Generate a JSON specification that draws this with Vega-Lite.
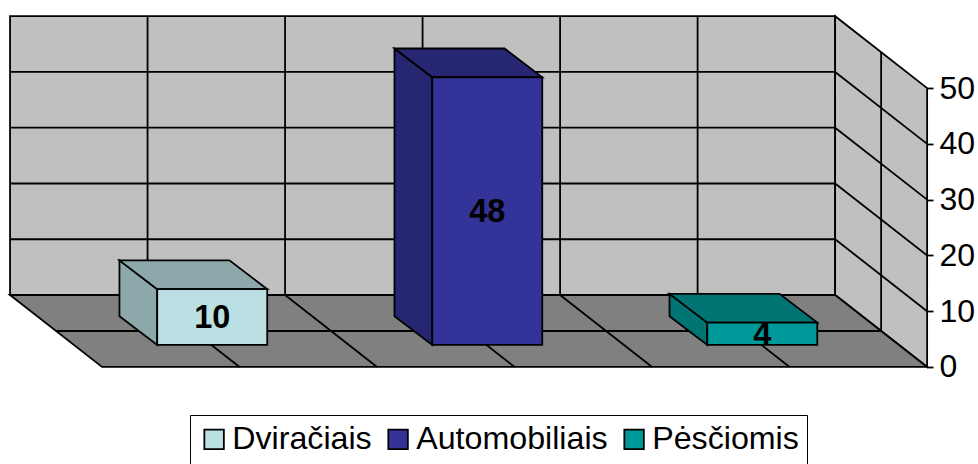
{
"$schema":"https://vega.github.io/schema/vega-lite/v6.json",
"width":978,"height":464,"padding":0,"autosize":{"type":"none"},
"background":"white",
"view":{"stroke":null},
"config":{"font":"Liberation Sans"},
"datasets":{
"bars":[{"category":"Dvira\u010diais","value":10,"slot":0},{"category":"Automobiliais","value":48,"slot":1},{"category":"P\u0117s\u010diomis","value":4,"slot":2}],
"back":[{"u":0,"d":1,"v":0,"v2":50},{"u":3,"d":1,"v":0,"v2":50}],
"side":[{"u":3,"d":1,"v":0,"v2":50},{"u":3,"d":0,"v":0,"v2":50}],
"floor":[{"d":1,"u":0,"u2":3},{"d":0,"u":0,"u2":3}],
"segments":[
{"u":0,"d":1,"v":10,"u2":3,"d2":1,"v2":10},{"u":0,"d":1,"v":20,"u2":3,"d2":1,"v2":20},{"u":0,"d":1,"v":30,"u2":3,"d2":1,"v2":30},{"u":0,"d":1,"v":40,"u2":3,"d2":1,"v2":40},
{"u":3,"d":1,"v":10,"u2":3,"d2":0,"v2":10},{"u":3,"d":1,"v":20,"u2":3,"d2":0,"v2":20},{"u":3,"d":1,"v":30,"u2":3,"d2":0,"v2":30},{"u":3,"d":1,"v":40,"u2":3,"d2":0,"v2":40},
{"u":0.5,"d":1,"v":0,"u2":0.5,"d2":1,"v2":50},{"u":1,"d":1,"v":0,"u2":1,"d2":1,"v2":50},{"u":1.5,"d":1,"v":0,"u2":1.5,"d2":1,"v2":50},{"u":2,"d":1,"v":0,"u2":2,"d2":1,"v2":50},{"u":2.5,"d":1,"v":0,"u2":2.5,"d2":1,"v2":50},
{"u":3,"d":0.5,"v":0,"u2":3,"d2":0.5,"v2":50},
{"u":0,"d":0.5,"v":0,"u2":3,"d2":0.5,"v2":0},
{"u":0.5,"d":1,"v":0,"u2":0.5,"d2":0,"v2":0},{"u":1,"d":1,"v":0,"u2":1,"d2":0,"v2":0},{"u":1.5,"d":1,"v":0,"u2":1.5,"d2":0,"v2":0},{"u":2,"d":1,"v":0,"u2":2,"d2":0,"v2":0},{"u":2.5,"d":1,"v":0,"u2":2.5,"d2":0,"v2":0}
]},
"encoding":{
"x":{"field":"px","type":"quantitative","title":null,"axis":null,"scale":{"domain":[-0.371,3.185],"range":[0,978],"nice":false,"zero":false}},
"y":{"field":"py","type":"quantitative","title":null,"scale":{"domain":[-17.4,65.8],"range":[464,0],"nice":false,"zero":false},
"axis":{"orient":"right","offset":-51,"values":[0,10,20,30,40,50],"domain":false,"ticks":true,"tickSize":6,"tickWidth":1.8,"tickColor":"black","grid":false,"labelPadding":6,"labelFontSize":32,"labelColor":"black","labelFont":"Liberation Sans","labelAlign":"left","labelBaseline":"middle"}}
},
"layer":[
{"data":{"name":"back"},"transform":[{"calculate":"datum.u-0.3345*datum.d","as":"px"},{"calculate":"datum.v+12.9*datum.d","as":"py"},{"calculate":"datum.v2+12.9*datum.d","as":"py2"}],
 "mark":{"type":"area","fill":"#C0C0C0","stroke":"black","strokeWidth":1.8,"opacity":1},"encoding":{"y2":{"field":"py2"}}},
{"data":{"name":"side"},"transform":[{"calculate":"datum.u-0.3345*datum.d","as":"px"},{"calculate":"datum.v+12.9*datum.d","as":"py"},{"calculate":"datum.v2+12.9*datum.d","as":"py2"}],
 "mark":{"type":"area","fill":"#C0C0C0","stroke":"black","strokeWidth":1.8,"opacity":1},"encoding":{"y2":{"field":"py2"}}},
{"data":{"name":"floor"},"transform":[{"calculate":"datum.u-0.3345*datum.d","as":"px"},{"calculate":"datum.u2-0.3345*datum.d","as":"px2"},{"calculate":"12.9*datum.d","as":"py"}],
 "mark":{"type":"area","orient":"horizontal","fill":"#808080","stroke":"black","strokeWidth":1.8,"opacity":1},"encoding":{"x2":{"field":"px2"}}},
{"data":{"name":"segments"},"transform":[{"calculate":"datum.u-0.3345*datum.d","as":"px"},{"calculate":"datum.v+12.9*datum.d","as":"py"},{"calculate":"datum.u2-0.3345*datum.d2","as":"px2"},{"calculate":"datum.v2+12.9*datum.d2","as":"py2"}],
 "mark":{"type":"rule","color":"black","strokeWidth":1.8},"encoding":{"x2":{"field":"px2"},"y2":{"field":"py2"}}},
{"data":{"name":"bars"},"transform":[{"calculate":"[0,1]","as":"t"},{"flatten":["t"]},{"calculate":"0.306+0.4*datum.t","as":"dp"},{"calculate":"datum.slot+0.303-0.3345*datum.dp-0.0035*datum.t","as":"px"},{"calculate":"12.9*datum.dp","as":"py"},{"calculate":"datum.value+12.9*datum.dp","as":"py2"}],
 "mark":{"type":"area","stroke":"black","strokeWidth":1.8,"opacity":1},
 "encoding":{"y2":{"field":"py2"},"fill":{"field":"category","type":"nominal","legend":null,"scale":{"domain":["Dvira\u010diais","Automobiliais","P\u0117s\u010diomis"],"range":["#8CA8AA","#262673","#007373"]}}}},
{"data":{"name":"bars"},"transform":[{"calculate":"[0,1]","as":"t"},{"flatten":["t"]},{"calculate":"0.306+0.4*datum.t","as":"dp"},{"calculate":"datum.slot+0.303-0.3345*datum.dp-0.0035*datum.t","as":"px"},{"calculate":"datum.slot+0.703-0.3345*datum.dp-0.0035*datum.t","as":"px2"},{"calculate":"datum.value+12.9*datum.dp","as":"py"}],
 "mark":{"type":"area","orient":"horizontal","stroke":"black","strokeWidth":1.8,"opacity":1},
 "encoding":{"x2":{"field":"px2"},"fill":{"field":"category","type":"nominal","legend":null,"scale":{"domain":["Dvira\u010diais","Automobiliais","P\u0117s\u010diomis"],"range":["#8CA8AA","#262673","#007373"]}}}},
{"data":{"name":"bars"},"transform":[{"calculate":"datum.slot+0.303-0.3345*0.306","as":"px"},{"calculate":"datum.slot+0.703-0.3345*0.306","as":"px2"},{"calculate":"12.9*0.306","as":"py"},{"calculate":"datum.value+12.9*0.306","as":"py2"}],
 "mark":{"type":"bar","stroke":"black","strokeWidth":1.8,"opacity":1},
 "encoding":{"x2":{"field":"px2"},"y2":{"field":"py2"},"fill":{"field":"category","type":"nominal","sort":null,"scale":{"domain":["Dvira\u010diais","Automobiliais","P\u0117s\u010diomis"],"range":["#BBE0E3","#333399","#009999"]},
  "legend":{"title":null,"orient":"none","legendX":190,"legendY":415,"direction":"horizontal","columns":3,"symbolType":"square","symbolSize":380,"symbolStrokeColor":"black","symbolStrokeWidth":1.8,"symbolOpacity":1,"labelFontSize":32.2,"labelFont":"Liberation Sans","labelColor":"black","labelLimit":300,"columnPadding":10,"padding":8,"strokeColor":"black","fillColor":"white","labelOffset":2}}}},
{"data":{"name":"bars"},"transform":[{"calculate":"datum.slot+0.503-0.3345*0.306","as":"px"},{"calculate":"datum.value/2+12.9*0.306","as":"py"}],
 "mark":{"type":"text","font":"Liberation Sans","fontWeight":"bold","fontSize":32.5,"color":"black","align":"center","baseline":"middle","dy":1},
 "encoding":{"text":{"field":"value","type":"quantitative"}}}
],
"resolve":{"scale":{"fill":"independent"}}
}
